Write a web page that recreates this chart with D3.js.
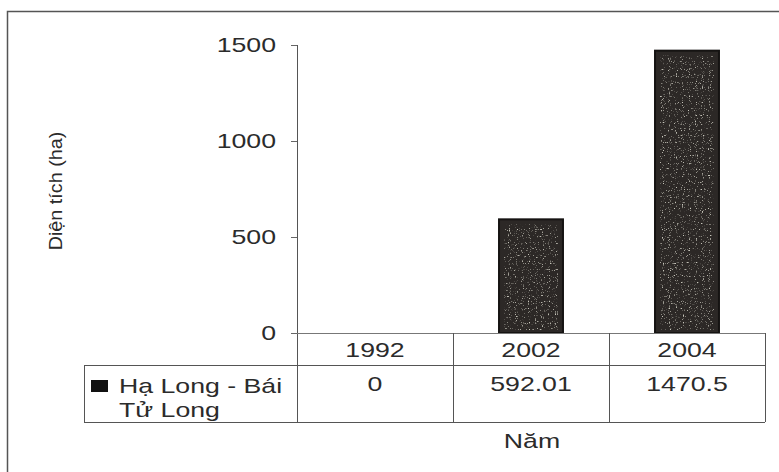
<!DOCTYPE html>
<html>
<head>
<meta charset="utf-8">
<script src="https://cdn.jsdelivr.net/npm/d3@7"></script>
<style>
  html, body { margin: 0; padding: 0; background: #fff; }
  svg { display: block; font-family: "Liberation Sans", Arial, sans-serif; }
</style>
</head>
<body>
<svg id="chart" width="779" height="472"></svg>
<script>
// Diện tích (ha) theo năm
const years = ["1992", "2002", "2004"];
const values = [0, 592.01, 1470.5];
const valueLabels = ["0", "592.01", "1470.5"];
const seriesName = ["Hạ Long - Bái", "Tử Long"];
const yTicks = [0, 500, 1000, 1500];

const svg = d3.select("#chart");
const ink = "#2b2b2b";
const fs = 21, sx = 1.27;   // wide lettering

const plot = { left: 297, right: 765, top: 45, bottom: 333 };
const headerBottom = 365, tableBottom = 422, legendLeft = 84;

const x = d3.scaleBand().domain(years).range([plot.left, plot.right]).paddingInner(0).paddingOuter(0);
const y = d3.scaleLinear().domain([0, 1500]).range([plot.bottom, plot.top]);

// speckled texture for the bar fill
const defs = svg.append("defs");
const f = defs.append("filter").attr("id", "grain");
f.append("feTurbulence").attr("type", "fractalNoise").attr("baseFrequency", 0.85)
  .attr("numOctaves", 1).attr("seed", 4).attr("result", "n");
f.append("feColorMatrix").attr("in", "n").attr("type", "matrix")
  .attr("values", "0 0 0 0 0.58  0 0 0 0 0.57  0 0 0 0 0.50  0 0 0 6 -3.6").attr("result", "s");
f.append("feComposite").attr("in", "s").attr("in2", "SourceGraphic").attr("operator", "in");

function wideText(g, tx, ty, str, anchor) {
  return g.append("text")
    .attr("transform", `translate(${tx},${ty}) scale(${sx},1)`)
    .attr("text-anchor", anchor || "middle")
    .attr("font-size", fs).attr("fill", ink)
    .text(str);
}

// outer frame (top and left edges visible)
svg.append("path")
  .attr("d", "M7.5,472 L7.5,11.5 L779,11.5")
  .attr("fill", "none").attr("stroke", "#555").attr("stroke-width", 1.5);

// bars
const barW = x.bandwidth() * 0.41;
const barData = years.map((yr, i) => ({ yr, v: values[i] })).filter(d => d.v > 0);
const bars = svg.append("g");
bars.selectAll("rect.bar").data(barData).join("rect").attr("class", "bar")
  .attr("x", d => x(d.yr) + (x.bandwidth() - barW) / 2)
  .attr("y", d => y(d.v))
  .attr("width", barW)
  .attr("height", d => y(0) - y(d.v))
  .attr("fill", "#2c2826")
  .attr("stroke", "#151312")
  .attr("stroke-width", 2);
bars.selectAll("rect.grain").data(barData).join("rect").attr("class", "grain")
  .attr("x", d => x(d.yr) + (x.bandwidth() - barW) / 2 + 5)
  .attr("y", d => y(d.v) + 5)
  .attr("width", barW - 10)
  .attr("height", d => y(0) - y(d.v) - 8)
  .attr("fill", "#000")
  .attr("filter", "url(#grain)");

// y axis
const yAxis = d3.axisLeft(y).tickValues(yTicks).tickSize(6).tickPadding(15).tickFormat(d3.format("d"));
const ga = svg.append("g").attr("transform", `translate(${plot.left},0)`).call(yAxis);
ga.select(".domain").remove();
ga.selectAll(".tick line").attr("stroke", "#666");
ga.selectAll(".tick text")
  .attr("font-size", fs).attr("fill", ink)
  .attr("font-family", "Liberation Sans, Arial, sans-serif")
  .attr("x", -21 / sx)
  .attr("transform", `scale(${sx},1)`);

// axis line (extends down through the table)
svg.append("line")
  .attr("x1", plot.left + 0.5).attr("x2", plot.left + 0.5)
  .attr("y1", plot.top).attr("y2", tableBottom)
  .attr("stroke", "#555").attr("stroke-width", 1);

// data table grid
const grid = svg.append("g").attr("stroke", "#555").attr("stroke-width", 1).attr("fill", "none");
grid.append("line").attr("x1", plot.left).attr("x2", plot.right).attr("y1", plot.bottom + 0.5).attr("y2", plot.bottom + 0.5).attr("stroke", "#777");
grid.append("line").attr("x1", legendLeft).attr("x2", plot.right).attr("y1", headerBottom + 0.5).attr("y2", headerBottom + 0.5);
grid.append("line").attr("x1", legendLeft).attr("x2", plot.right).attr("y1", tableBottom + 0.5).attr("y2", tableBottom + 0.5);
grid.append("line").attr("x1", legendLeft + 0.5).attr("x2", legendLeft + 0.5).attr("y1", headerBottom).attr("y2", tableBottom);
years.forEach(yr => {
  const xr = x(yr) + x.bandwidth();
  grid.append("line").attr("x1", xr + 0.5).attr("x2", xr + 0.5).attr("y1", plot.bottom).attr("y2", tableBottom);
});

// header row: years
const hdr = svg.append("g");
years.forEach(yr => wideText(hdr, x(yr) + x.bandwidth() / 2, 357, yr));

// value row
const vals = svg.append("g");
years.forEach((yr, i) => wideText(vals, x(yr) + x.bandwidth() / 2, 391, valueLabels[i]));

// legend key and series name
svg.append("rect").attr("x", 91).attr("y", 380).attr("width", 17).attr("height", 12).attr("fill", "#111");
const leg = svg.append("g");
seriesName.forEach((s, i) => wideText(leg, 119, 393 + i * 24, s, "start"));

// axis titles
svg.append("text")
  .attr("transform", "translate(62,191) rotate(-90) scale(1.1,1)")
  .attr("text-anchor", "middle")
  .attr("font-size", 18).attr("fill", ink)
  .text("Diện tích (ha)");

wideText(svg, 532, 448, "Năm");
</script>
</body>
</html>
